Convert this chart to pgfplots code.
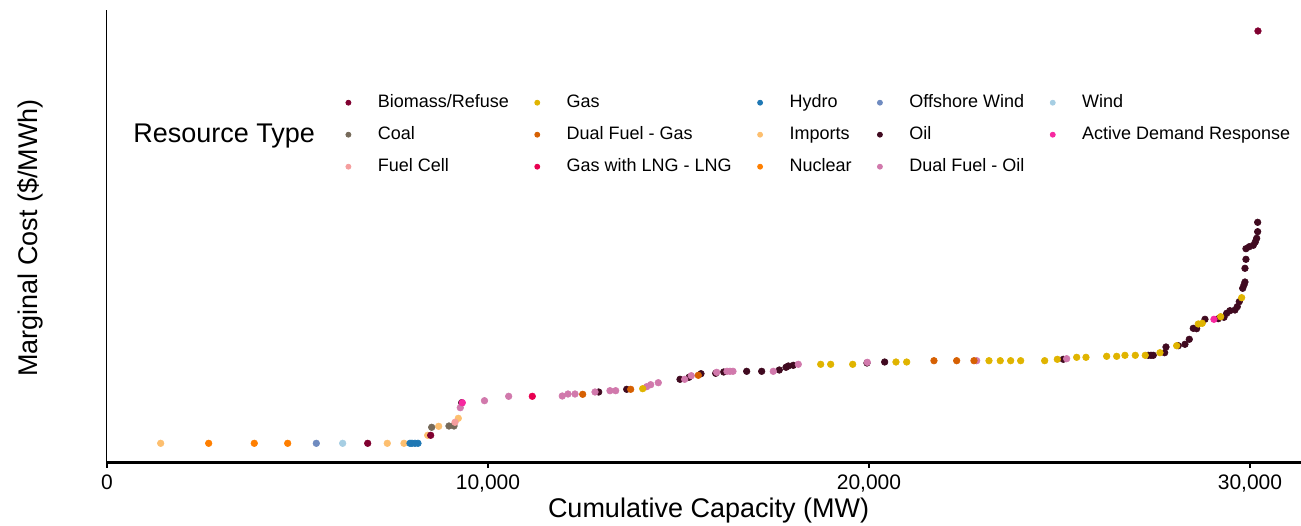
\documentclass[border=0pt]{standalone}
\usepackage{pgfplots}
\pgfplotsset{compat=1.18}
\usepackage{fontspec}
\setmainfont{Liberation Sans}
\definecolor{cBio}{RGB}{128,0,48}
\definecolor{cCoal}{RGB}{118,106,90}
\definecolor{cFuel}{RGB}{245,158,158}
\definecolor{cGas}{RGB}{224,180,0}
\definecolor{cDFG}{RGB}{214,96,2}
\definecolor{cLNG}{RGB}{232,0,80}
\definecolor{cHydro}{RGB}{31,120,180}
\definecolor{cImp}{RGB}{253,191,111}
\definecolor{cNuc}{RGB}{255,127,0}
\definecolor{cOff}{RGB}{111,139,192}
\definecolor{cOil}{RGB}{64,10,32}
\definecolor{cDFO}{RGB}{209,121,172}
\definecolor{cWind}{RGB}{166,206,227}
\definecolor{cADR}{RGB}{247,40,160}
\pgfplotsset{
  pt/.style={only marks, mark=*, mark size=1.65pt, mark options={draw=#1, fill=#1, line width=0.3pt}, forget plot},
  lg/.style={only marks, mark=*, mark options={draw=#1, fill=#1}},
}
\begin{document}
\begin{tikzpicture}
\begin{axis}[
  scale only axis,
  width=597.25pt, height=226pt,
  at={(53.25pt,31.25pt)}, anchor=south west,
  xmin=-13, xmax=31340, ymin=0, ymax=452,
  axis x line*=bottom, axis y line*=left,
  x axis line style={line width=1.1pt},
  y axis line style={line width=0.8pt},
  ytick=\empty,
  scaled x ticks=false,
  xtick={0,10000,20000,30000},
  xticklabels={0,{10,000},{20,000},{30,000}},
  tick align=outside, major tick length=2.5pt,
  xtick style={draw=black, line width=0.6pt},
  tick label style={font=\fontsize{10.5}{12}\selectfont},
  /pgf/number format/assume math mode=true,
  xlabel={Cumulative Capacity (MW)},
  ylabel={Marginal Cost (\$/MWh)},
  every axis x label/.style={at={(axis description cs:0.504,0)}, anchor=center, yshift=-24pt, font=\fontsize{13.5}{16}\selectfont},
  every axis y label/.style={at={(axis description cs:-0.064,0.497)}, anchor=center, rotate=90, font=\fontsize{13.5}{16}\selectfont},
  clip=false,
  legend columns=5,
  legend image code/.code={\draw[#1, mark size=1.25pt] plot coordinates {(0pt,0pt)}; \path (-2pt,-1pt) (2pt,1pt);},
  legend style={draw=none, fill=none, inner sep=0pt, outer sep=0pt,
    at={(axis cs:6221,368.8)}, anchor=north west,
    font=\fontsize{9}{11}\selectfont,
    row sep=7pt,
    nodes={inner sep=0pt, text height=7pt, text depth=2pt},
    /tikz/every odd column/.append style={column sep=12.5pt},
    /tikz/every even column/.append style={column sep=12pt}},
  legend cell align=left,
]
\addlegendimage{lg=cBio}\addlegendentry{Biomass/Refuse}
\addlegendimage{lg=cGas}\addlegendentry{Gas}
\addlegendimage{lg=cHydro}\addlegendentry{Hydro}
\addlegendimage{lg=cOff}\addlegendentry{Offshore Wind}
\addlegendimage{lg=cWind}\addlegendentry{Wind}
\addlegendimage{lg=cCoal}\addlegendentry{Coal}
\addlegendimage{lg=cDFG}\addlegendentry{Dual Fuel - Gas}
\addlegendimage{lg=cImp}\addlegendentry{Imports}
\addlegendimage{lg=cOil}\addlegendentry{Oil}
\addlegendimage{lg=cADR}\addlegendentry{Active Demand Response}
\addlegendimage{lg=cFuel}\addlegendentry{Fuel Cell}
\addlegendimage{lg=cLNG}\addlegendentry{Gas with LNG - LNG}
\addlegendimage{lg=cNuc}\addlegendentry{Nuclear}
\addlegendimage{lg=cDFO}\addlegendentry{Dual Fuel - Oil}

% Oil
\addplot[pt=cOil] coordinates {(9310,59.8) (12906,70.5) (13641,73.2) (15040,83.2) (15276,85.2) (15591,88.8) (15977,89.2) (16187,90.5) (16790,91.2) (17184,91.2) (17646,92.5) (17822,95.2) (17882,96.5) (18013,97.2) (19948,99.5) (20412,100.5) (25100,103.2) (27331,107.2) (27402,107.2) (27462,107.2) (27761,109.8) (27796,115.5) (28118,116.8) (28294,118.2) (28407,123.2) (28512,134.2) (28601,133.8) (28819,143.2) (29168,143.8) (29318,145.2) (29389,149.2) (29475,151.8) (29607,152.5) (29667,155.8) (29719,160.8) (29809,174.2) (29843,177.5) (29869,180.5) (29869,194.2) (29895,203.2) (29895,213.8) (29982,215.8) (30087,217.2) (30140,220.5) (30176,224.2) (30202,230.8) (30202,240.2)};
% Dual Fuel - Oil
\addplot[pt=cDFO] coordinates {(9273,54.8) (9908,61.8) (10543,66.2) (11950,66.5) (12100,68.5) (12284,68.5) (12809,70.5) (13202,71.8) (13352,71.8) (14166,75.8) (14271,77.8) (14470,79.8) (15163,83.2) (15336,86.8) (16003,90.2) (16273,91.2) (16352,91.2) (16431,91.2) (17488,91.2) (18145,98.2) (19956,100.2) (22827,101.8) (25189,103.8)};
% Gas
\addplot[pt=cGas] coordinates {(14061,73.8) (18733,98.2) (18995,98.2) (19573,98.2) (20709,100.5) (20990,100.5) (23150,101.8) (23446,101.8) (23719,101.8) (23982,101.8) (24612,101.8) (24943,103.2) (25452,105.2) (25696,105.2) (26239,106.2) (26502,106.2) (26719,107.2) (26990,107.2) (27252,107.2) (27638,109.8) (28076,116.8) (28643,138.5) (28748,139.2) (29231,145.8) (29782,164.8)};
% Dual Fuel - Gas
\addplot[pt=cDFG] coordinates {(12486,68.2) (13746,73.2) (15520,87.2) (21706,101.8) (22302,101.8) (22756,101.8)};
% Gas with LNG
\addplot[pt=cLNG] coordinates {(11163,66.2)};
% Imports
\addplot[pt=cImp] coordinates {(1409,19.2) (7357,19.2) (7795,19.2) (8417,27.2) (8706,36.2) (9221,44.2)};
% Nuclear
\addplot[pt=cNuc] coordinates {(2669,19.2) (3866,19.2) (4743,19.2)};
% Offshore Wind
\addplot[pt=cOff] coordinates {(5494,19.2)};
% Wind
\addplot[pt=cWind] coordinates {(6186,19.2)};
% Hydro
\addplot[pt=cHydro] coordinates {(7953,19.2) (8005,19.2) (8084,19.2) (8163,19.2)};
% Coal
\addplot[pt=cCoal] coordinates {(8522,35.2) (8976,36.5) (9108,36.5)};
% Fuel Cell
\addplot[pt=cFuel] coordinates {(9134,40.2)};
% Biomass/Refuse
\addplot[pt=cBio] coordinates {(6843,19.2) (8496,27.2) (30210,431.5)};
% Active Demand Response
\addplot[pt=cADR] coordinates {(9326,59.8) (29055,143.2)};

\node[anchor=west, font=\fontsize{13.5}{16}\selectfont, inner sep=0pt] at (axis cs:682,326.5) {Resource Type};
\end{axis}
\pgfresetboundingbox
\path (0,0) rectangle (650.5pt,262.5pt);
\end{tikzpicture}
\end{document}
